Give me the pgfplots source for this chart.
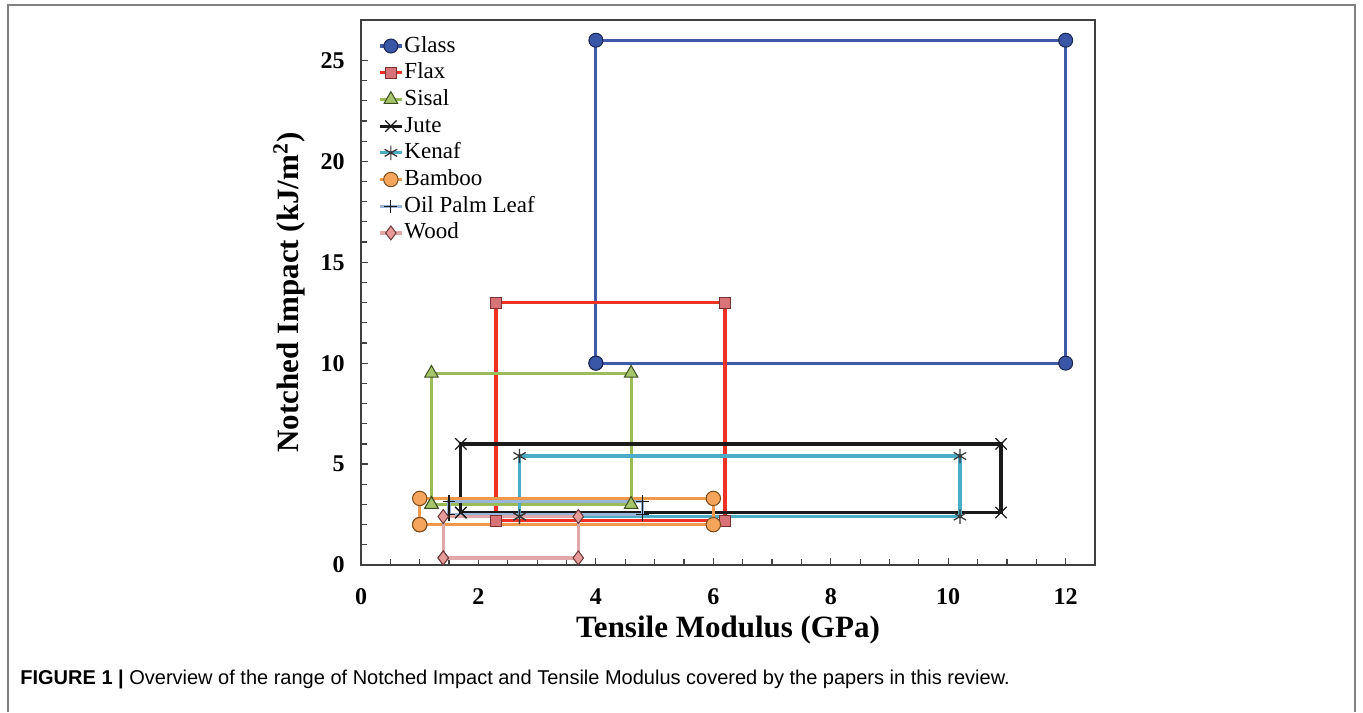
\documentclass[border=0pt]{standalone}
\usepackage{fontspec}
\setmainfont{Liberation Serif}
\setsansfont{Liberation Sans}
\usepackage{pgfplots}
\pgfplotsset{compat=1.18}
\definecolor{glassL}{HTML}{3F5AA8}\definecolor{glassF}{HTML}{3A56A6}\definecolor{glassE}{HTML}{1A2550}
\definecolor{flaxL}{HTML}{EE3224}\definecolor{flaxF}{HTML}{D9737A}\definecolor{flaxE}{HTML}{7A3030}
\definecolor{sisalL}{HTML}{9BBB59}\definecolor{sisalF}{HTML}{A6C46A}\definecolor{sisalE}{HTML}{3D4D22}
\definecolor{juteL}{HTML}{1A1A1A}
\definecolor{kenafL}{HTML}{4BACC6}\definecolor{kenafM}{HTML}{333333}
\definecolor{bambooL}{HTML}{F0994B}\definecolor{bambooF}{HTML}{F5A55C}\definecolor{bambooE}{HTML}{7A4A1A}
\definecolor{oilL}{HTML}{9AB5DA}
\definecolor{woodL}{HTML}{E0A8A8}\definecolor{woodF}{HTML}{E69A9A}\definecolor{woodE}{HTML}{6B3A3A}
\definecolor{axisG}{HTML}{404040}
\definecolor{frameG}{HTML}{808080}
\begin{document}
\begin{tikzpicture}
\useasboundingbox (0,0) rectangle (681.5pt,-356pt);
\draw[frameG, line width=1pt] (4pt,-356pt) -- (4pt,-2.5pt) -- (677.5pt,-2.5pt) -- (677.5pt,-356pt);
\begin{axis}[
  at={(180.5pt,-282.5pt)}, anchor=south west,
  scale only axis, width=367pt, height=272.5pt,
  xmin=0, xmax=12.5, ymin=0, ymax=27,
  xtick={0,2,...,12}, ytick={0,5,...,25},
  minor x tick num=3, minor y tick num=4,
  tick align=inside, xtick pos=bottom, ytick pos=left,
  major tick length=3.5pt, minor tick length=3pt,
  axis line style={axisG, line width=0.75pt},
  every tick/.style={axisG, line width=0.6pt},
  /pgf/number format/assume math mode=true,
  ticklabel style={font=\bfseries\fontsize{12}{12}\selectfont},
  xticklabel style={anchor=base, yshift=-19.5pt, inner sep=0pt},
  yticklabel style={anchor=east, xshift=-8pt, inner sep=0pt},
  xlabel={Tensile Modulus (GPa)},
  ylabel={Notched Impact (kJ/m\textsuperscript{2})},
  label style={font=\bfseries\fontsize{15.5}{15.5}\selectfont},
  xlabel style={at={(axis description cs:0.5,0)}, anchor=base, yshift=-36pt, inner sep=0pt},
  ylabel style={at={(axis description cs:0,0.5)}, anchor=base, yshift=31.5pt, inner sep=0pt},
  legend cell align=left,
  legend style={at={(0.023,0.975)}, anchor=north west, draw=none, fill=none,
    font=\fontsize{11.5}{11.5}\selectfont, inner sep=0pt, row sep=1.35pt,
    nodes={inner sep=0.5pt, text height=8.5pt, text depth=2.5pt}},
  legend image code/.code={\draw[mark repeat=2,mark phase=2] plot coordinates {(0pt,0pt)(5.5pt,0pt)(11pt,0pt)};},
]
\addplot[glassL, line width=1.6pt, mark=*, mark size=3.5pt, mark options={fill=glassF, draw=glassE, line width=0.5pt}]
  coordinates {(4,10)(4,26)(12,26)(12,10)(4,10)};
\addlegendentry{Glass}
\addplot[flaxL, line width=1.6pt, mark=square*, mark size=2.8pt, mark options={fill=flaxF, draw=flaxE, line width=0.5pt}]
  coordinates {(2.3,2.2)(2.3,13)(6.2,13)(6.2,2.2)(2.3,2.2)};
\addlegendentry{Flax}
\addplot[sisalL, line width=1.6pt, mark=triangle*, mark size=3.9pt, mark options={fill=sisalF, draw=sisalE, line width=0.5pt}]
  coordinates {(1.2,3)(1.2,9.5)(4.6,9.5)(4.6,3)(1.2,3)};
\addlegendentry{Sisal}
\addplot[juteL, line width=1.6pt, mark=x, mark size=4pt, mark options={draw=juteL, line width=0.6pt}]
  coordinates {(1.7,2.6)(1.7,6)(10.9,6)(10.9,2.6)(1.7,2.6)};
\addlegendentry{Jute}
\addplot[kenafL, line width=1.6pt, mark=asterisk, mark size=3.6pt, mark options={draw=kenafM, line width=0.6pt}]
  coordinates {(2.7,2.4)(2.7,5.4)(10.2,5.4)(10.2,2.4)(2.7,2.4)};
\addlegendentry{Kenaf}
\addplot[bambooL, line width=1.6pt, mark=*, mark size=3.6pt, mark options={fill=bambooF, draw=bambooE, line width=0.5pt}]
  coordinates {(1,2)(1,3.3)(6,3.3)(6,2)(1,2)};
\addlegendentry{Bamboo}
\addplot[oilL, line width=1.6pt, mark=+, mark size=3.2pt, mark options={draw=juteL, line width=0.6pt}]
  coordinates {(1.5,2.5)(1.5,3.15)(4.8,3.15)(4.8,2.5)(1.5,2.5)};
\addlegendentry{Oil Palm Leaf}
\addplot[woodL, line width=1.6pt, mark=diamond*, mark size=3.5pt, mark options={fill=woodF, draw=woodE, line width=0.5pt}]
  coordinates {(1.4,0.35)(1.4,2.4)(3.7,2.4)(3.7,0.35)(1.4,0.35)};
\addlegendentry{Wood}
\end{axis}
\node[anchor=base west, inner sep=0pt, font=\sffamily\fontsize{10}{10}\selectfont] at (10pt,-342pt)
  {\textbf{FIGURE 1 |} Overview of the range of Notched Impact and Tensile Modulus covered by the papers in this review.};
\end{tikzpicture}
\end{document}
